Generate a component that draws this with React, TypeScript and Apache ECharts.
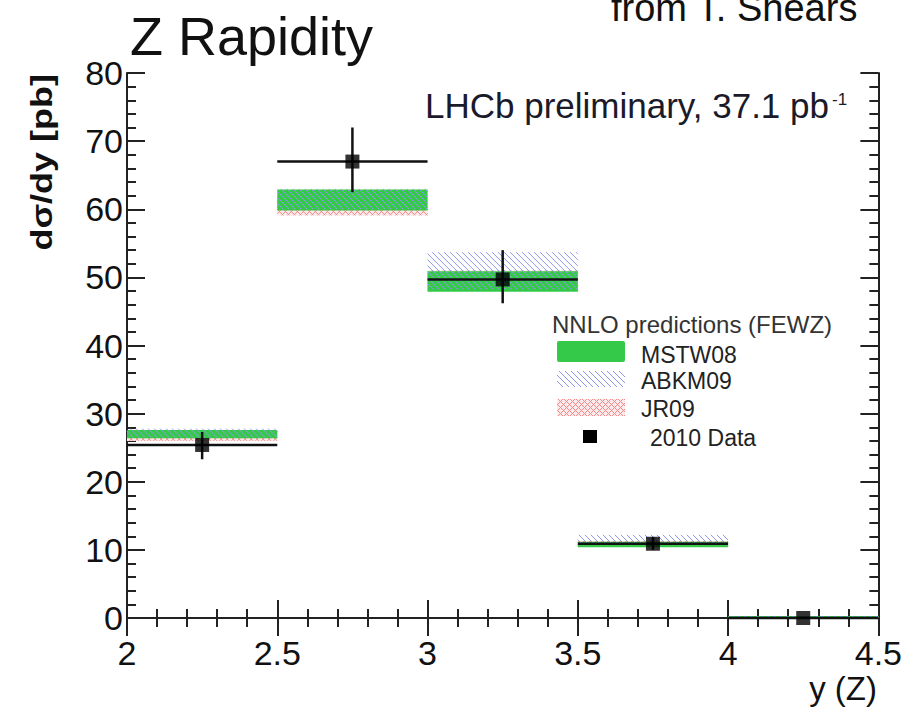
import React, { useEffect, useRef } from "react";
import * as echarts from "echarts";

// ---- data ----
const binLo = [2.0, 2.5, 3.0, 3.5, 4.0];
const binHi = [2.5, 3.0, 3.5, 4.0, 4.5];
const dataX = [2.25, 2.75, 3.25, 3.75, 4.25];
const dataY = [25.4, 67.0, 49.7, 10.9, 0.0];
const dataErrLo = [2.1, 4.5, 3.5, 0.9, 0.1];
const dataErrHi = [1.9, 5.0, 4.3, 1.0, 0.1];
const mstwLo = [26.4, 59.8, 47.9, 10.4, 0.0];
const mstwHi = [27.6, 62.9, 50.9, 11.2, 0.3];
const abkmLo = [26.5, 60.0, 48.2, 10.6, 0.0];
const abkmHi = [27.8, 63.0, 53.7, 12.2, 0.2];
const jrLo = [26.0, 59.1, 48.0, 10.5, 0.0];
const jrHi = [27.4, 62.0, 51.0, 11.3, 0.2];
const xTicks = ["2", "2.5", "3", "3.5", "4", "4.5"];
const yTicks = ["0", "10", "20", "30", "40", "50", "60", "70", "80"];

const FONT = "Liberation Sans, Helvetica, Arial, sans-serif";
const GREEN = "#35c94a";
const BLUE = "#8f97ee";
const PINK = "#f08a8a";

function hatch(x0: number, y0: number, x1: number, y1: number, step: number, dir: number) {
  const out: number[][] = [];
  const h = y1 - y0;
  for (let t = x0 - h; t <= x1; t += step) {
    let sx = t, sy = y0, ex = t + h, ey = y1;
    if (sx < x0) { sy = y0 + (x0 - sx); sx = x0; }
    if (ex > x1) { ey = y1 - (ex - x1); ex = x1; }
    if (sx >= ex) continue;
    if (dir < 0) { sy = y0 + y1 - sy; ey = y0 + y1 - ey; }
    out.push([sx, sy, ex, ey]);
  }
  return out;
}

function hatchEls(x0: number, y0: number, x1: number, y1: number, step: number, dirs: number[], color: string, w = 1) {
  const els: any[] = [];
  dirs.forEach((d) => {
    hatch(x0, y0, x1, y1, step, d).forEach((l) => {
      els.push({ type: "line", shape: { x1: l[0], y1: l[1], x2: l[2], y2: l[3] }, style: { stroke: color, lineWidth: w, fill: null }, silent: true });
    });
  });
  return els;
}

function bandData(lo: number[], hi: number[]) {
  return binLo.map((b, i) => [b, binHi[i], lo[i], hi[i]]);
}

function bandSeries(name: string, lo: number[], hi: number[], kind: "fill" | "blue" | "pink", z: number) {
  return {
    type: "custom",
    name,
    z,
    data: bandData(lo, hi),
    encode: { x: [0, 1], y: [2, 3] },
    renderItem: (params: any, api: any) => {
      const p0 = api.coord([api.value(0), api.value(3)]);
      const p1 = api.coord([api.value(1), api.value(2)]);
      const x0 = p0[0], x1 = p1[0];
      let y0 = p0[1];
      const y1 = p1[1];
      if (y1 - y0 < 2) { y0 = y1 - 2; }
      if (kind === "fill") {
        return { type: "rect", shape: { x: x0, y: y0, width: x1 - x0, height: y1 - y0 }, style: { fill: GREEN } };
      }
      if (kind === "blue") {
        return { type: "group", children: hatchEls(x0, y0, x1, y1, 6, [1], BLUE, 1) };
      }
      return {
        type: "group",
        children: [
          { type: "rect", shape: { x: x0, y: y0, width: x1 - x0, height: y1 - y0 }, style: { fill: "#fdeaea" } },
          ...hatchEls(x0, y0, x1, y1, 6, [1, -1], PINK, 1),
        ],
      };
    },
  };
}

export default function App() {
  const ref = useRef<HTMLDivElement>(null);
  useEffect(() => {
    document.body.style.margin = "0";
    if (!ref.current) return;
    const chart = echarts.init(ref.current, undefined, { renderer: "svg" });

    const errData = dataX.map((x, i) => [x, dataY[i], dataY[i] - dataErrLo[i], dataY[i] + dataErrHi[i], binLo[i], binHi[i]]);

    const axisCommon = {
      type: "value",
      axisLine: { show: true, lineStyle: { color: "#222", width: 2 } },
      axisTick: { show: true, inside: true, length: 18, lineStyle: { color: "#222", width: 2 } },
      minorTick: { show: true, splitNumber: 5, length: 9, lineStyle: { color: "#222", width: 2 } },
      splitLine: { show: false },
    };

    const legendX = 557, legendW = 68;

    const option: any = {
      animation: false,
      backgroundColor: "#fff",
      grid: { left: 127, right: 25, top: 73, bottom: 91 },
      xAxis: [
        {
          ...axisCommon,
          position: "bottom",
          min: 2, max: 4.5, interval: 0.5,
          axisLabel: {
            show: true, margin: 18, fontFamily: FONT, fontSize: 34, color: "#111",
            formatter: (v: number) => xTicks[Math.round((v - 2) / 0.5)] ?? "",
          },
        },
        {
          ...axisCommon,
          position: "top",
          min: 2, max: 4.5, interval: 0.5,
          axisLabel: { show: false },
        },
      ],
      yAxis: [
        {
          ...axisCommon,
          position: "left",
          min: 0, max: 80, interval: 10,
          axisLabel: {
            show: true, margin: 4, fontFamily: FONT, fontSize: 34, color: "#111",
            formatter: (v: number) => yTicks[Math.round(v / 10)] ?? "",
          },
        },
        {
          ...axisCommon,
          position: "right",
          min: 0, max: 80, interval: 10,
          axisLabel: { show: false },
        },
      ],
      series: [
        bandSeries("JR09", jrLo, jrHi, "pink", 1),
        bandSeries("MSTW08", mstwLo, mstwHi, "fill", 2),
        bandSeries("ABKM09", abkmLo, abkmHi, "blue", 3),
        {
          type: "custom",
          name: "errors",
          z: 4,
          data: errData,
          encode: { x: 0, y: 1 },
          clip: false,
          renderItem: (params: any, api: any) => {
            const c = api.coord([api.value(0), api.value(1)]);
            const lo = api.coord([api.value(0), api.value(2)]);
            const hi = api.coord([api.value(0), api.value(3)]);
            const l = api.coord([api.value(4), api.value(1)]);
            const r = api.coord([api.value(5), api.value(1)]);
            const st = { stroke: "#111", lineWidth: 2.5 };
            return {
              type: "group",
              children: [
                { type: "line", shape: { x1: l[0], y1: c[1], x2: r[0], y2: c[1] }, style: st },
                { type: "line", shape: { x1: c[0], y1: hi[1], x2: c[0], y2: lo[1] }, style: st },
              ],
            };
          },
        },
        {
          type: "scatter",
          name: "2010 Data",
          z: 5,
          clip: false,
          symbol: "rect",
          symbolSize: 14,
          itemStyle: { color: "#000" },
          data: dataX.map((x, i) => [x, dataY[i]]),
        },
      ],
      graphic: [
        { type: "text", x: 130, y: 36, style: { text: "Z Rapidity", fontFamily: FONT, fontSize: 54, fill: "#111", verticalAlign: "middle" } },
        { type: "text", x: 611, y: 8, style: { text: "from T. Shears", fontFamily: FONT, fontSize: 38, fill: "#111", verticalAlign: "middle" } },
        {
          type: "text", x: 42, y: 74, rotation: Math.PI / 2, scaleX: 1.2,
          style: { text: "dσ/dy [pb]", fontFamily: FONT, fontSize: 30, fontWeight: "bold", fill: "#111", align: "right", verticalAlign: "middle" },
        },
        { type: "text", x: 877, y: 688, style: { text: "y (Z)", fontFamily: FONT, fontSize: 33, fill: "#111", align: "right", verticalAlign: "middle" } },
        {
          type: "text", x: 425, y: 105,
          style: { text: "LHCb preliminary, 37.1 pb", fontFamily: FONT, fontSize: 35, fill: "#1a1a2a", verticalAlign: "middle" },
        },
        { type: "text", x: 832, y: 99, style: { text: "-1", fontFamily: FONT, fontSize: 17, fill: "#1a1a2a", verticalAlign: "middle" } },
        // legend
        { type: "text", x: 552, y: 324, style: { text: "NNLO predictions (FEWZ)", fontFamily: FONT, fontSize: 24, fill: "#333", verticalAlign: "middle" } },
        { type: "rect", shape: { x: legendX, y: 341, width: legendW, height: 21, r: 2 }, style: { fill: GREEN } },
        { type: "text", x: 641, y: 355, style: { text: "MSTW08", fontFamily: FONT, fontSize: 23, fill: "#222", verticalAlign: "middle" } },
        { type: "group", children: hatchEls(legendX, 371, legendX + legendW, 387, 6, [1], BLUE, 1) },
        { type: "text", x: 641, y: 381, style: { text: "ABKM09", fontFamily: FONT, fontSize: 23, fill: "#222", verticalAlign: "middle" } },
        { type: "rect", shape: { x: legendX, y: 399, width: legendW, height: 17 }, style: { fill: "#fdeaea" } },
        { type: "group", children: hatchEls(legendX, 399, legendX + legendW, 416, 6, [1, -1], PINK, 1) },
        { type: "text", x: 641, y: 409, style: { text: "JR09", fontFamily: FONT, fontSize: 23, fill: "#222", verticalAlign: "middle" } },
        { type: "rect", shape: { x: 583, y: 430, width: 14, height: 13 }, style: { fill: "#000" } },
        { type: "text", x: 650, y: 438, style: { text: "2010 Data", fontFamily: FONT, fontSize: 23, fill: "#222", verticalAlign: "middle" } },
      ],
    };
    chart.setOption(option);
    return () => chart.dispose();
  }, []);
  return <div ref={ref} style={{ width: 905, height: 709 }} />;
}
